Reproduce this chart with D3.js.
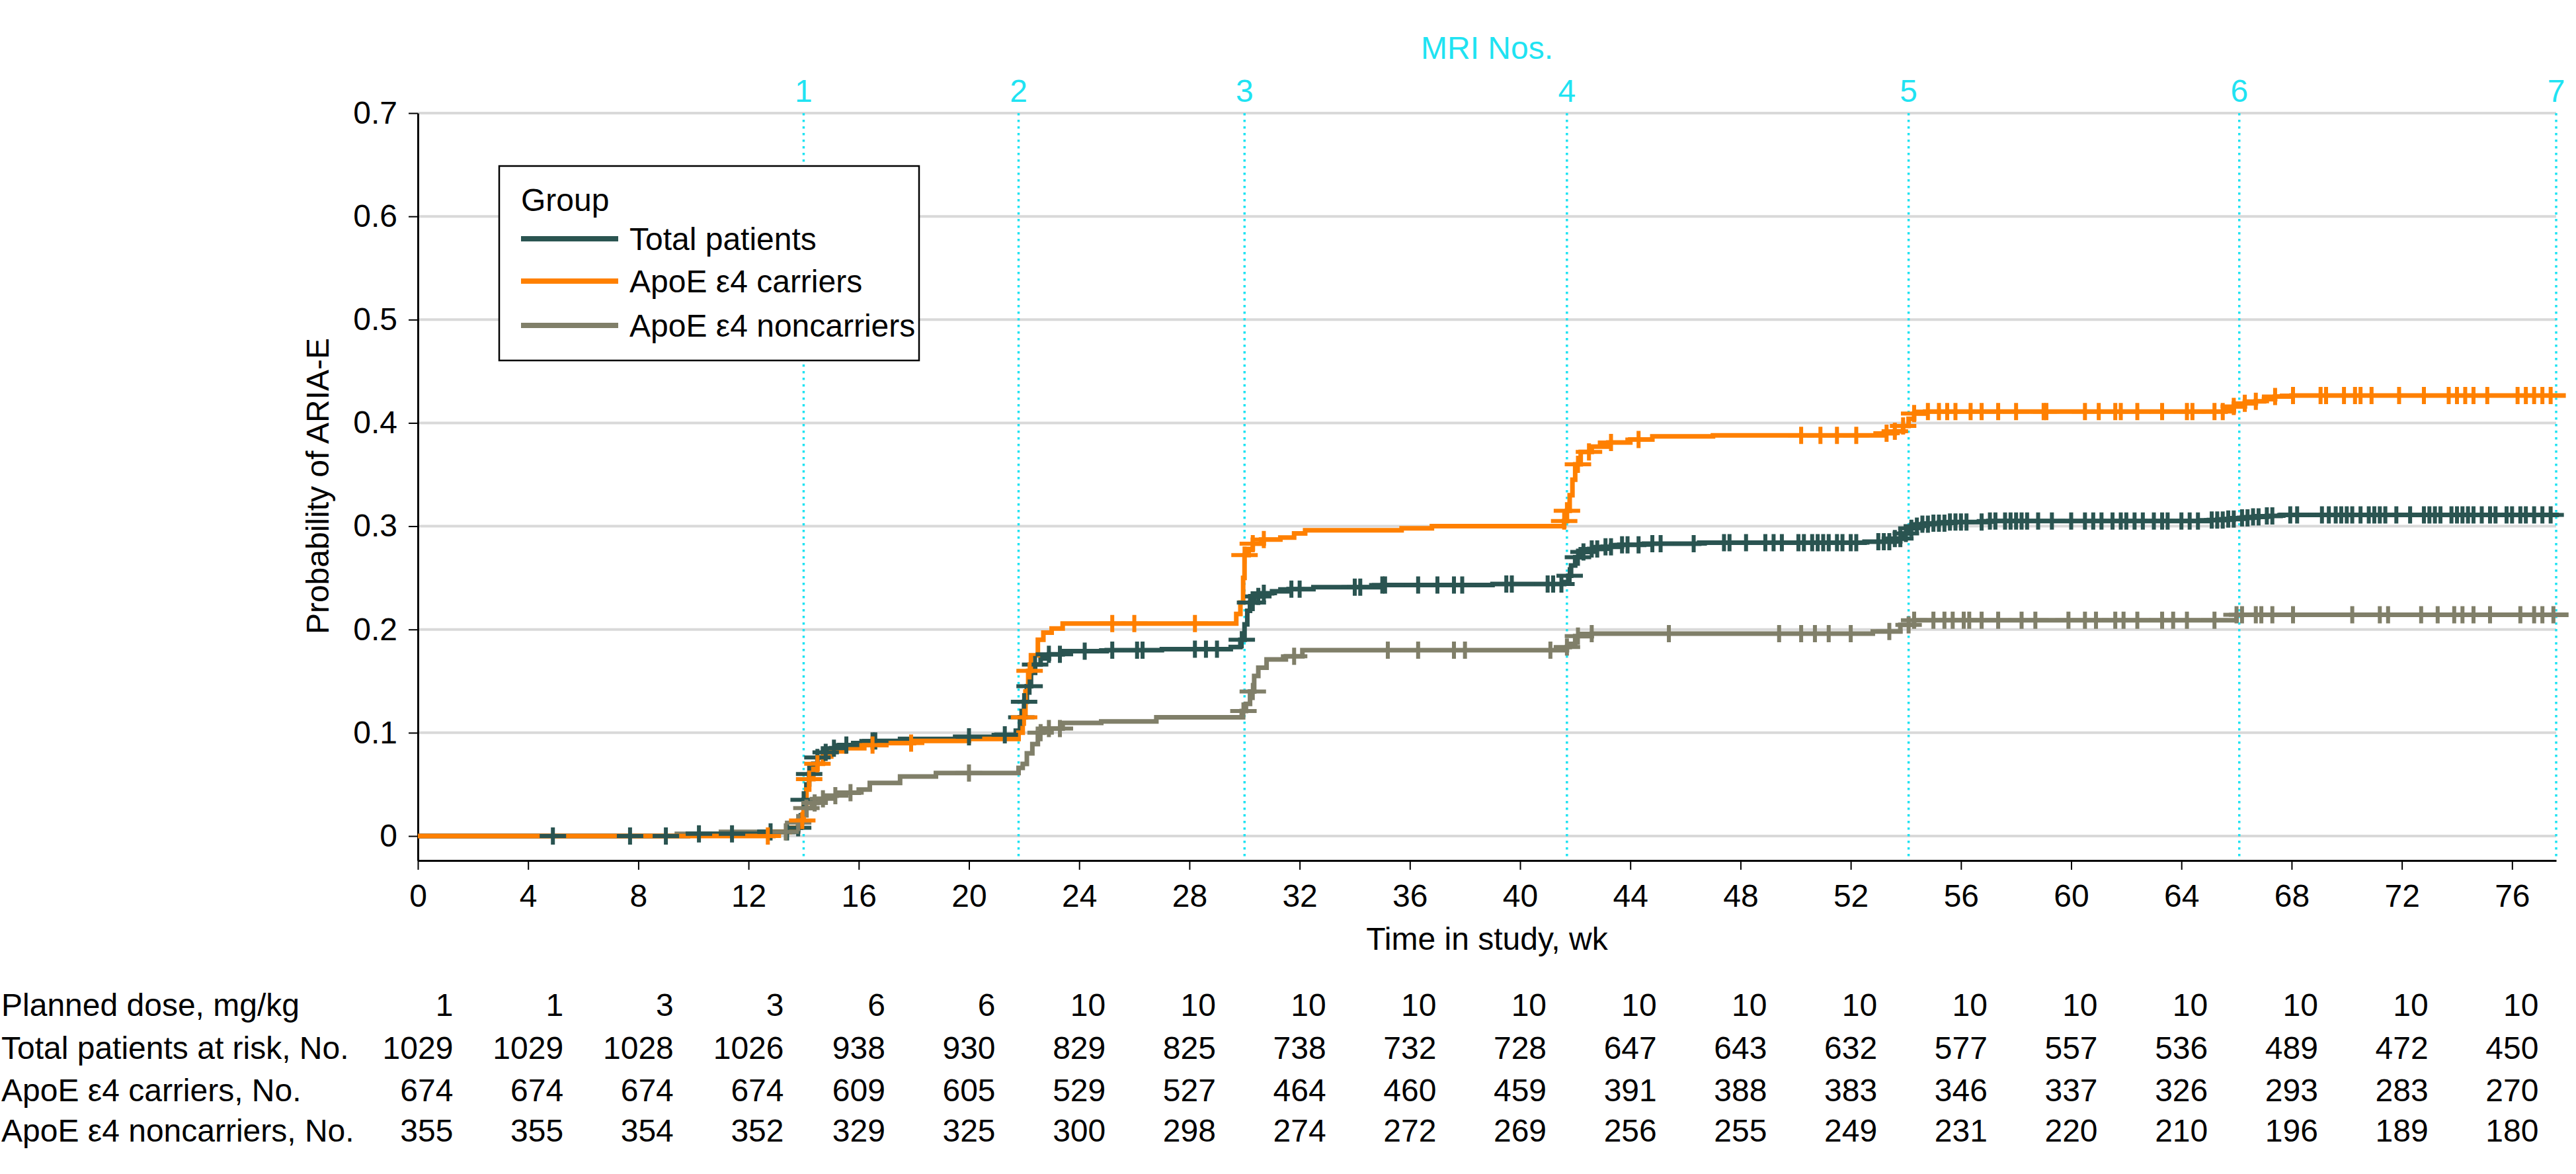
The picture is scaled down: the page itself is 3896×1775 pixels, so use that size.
<!DOCTYPE html>
<html>
<head>
<meta charset="utf-8">
<script src="https://cdn.jsdelivr.net/npm/d3@7"></script>
<style>
body { margin: 0; background: #fff; }
svg { display: block; font-family: "Liberation Sans", Arial, sans-serif; }
</style>
</head>
<body>
<svg width="3896" height="1775"></svg>
<script>
// step times (wk) and cumulative probability of ARIA-E after each step
var totalTimes = [0, 9.8, 12.4, 13.7, 13.9, 14.0, 14.1, 14.2, 14.35, 14.5, 14.7, 15.0, 15.3, 15.8, 16.5, 17.5, 19.5, 21.0, 21.7, 21.85, 22.0, 22.1, 22.25, 22.4, 22.6, 22.9, 23.4, 25.0, 27.0, 29.5, 29.85, 30.0, 30.1, 30.2, 30.35, 30.6, 31.0, 31.6, 32.5, 35.0, 39.0, 41.6, 41.75, 41.85, 42.0, 42.2, 42.5, 43.0, 43.6, 44.5, 46.5, 52.5, 53.6, 53.9, 54.1, 54.3, 54.6, 55.0, 55.6, 57.0, 65.0, 65.6, 66.1, 66.6, 67.1, 67.6, 77.7];
var totalProb = [0, 0.002, 0.004, 0.008, 0.02, 0.035, 0.05, 0.06, 0.07, 0.076, 0.081, 0.085, 0.088, 0.09, 0.092, 0.094, 0.096, 0.098, 0.102, 0.115, 0.13, 0.145, 0.158, 0.166, 0.172, 0.176, 0.179, 0.18, 0.181, 0.183, 0.19, 0.205, 0.218, 0.226, 0.232, 0.235, 0.237, 0.239, 0.241, 0.243, 0.244, 0.246, 0.252, 0.262, 0.27, 0.275, 0.278, 0.28, 0.282, 0.283, 0.284, 0.285, 0.288, 0.293, 0.298, 0.3, 0.302, 0.303, 0.304, 0.305, 0.306, 0.307, 0.308, 0.309, 0.31, 0.311, 0.311];

var carriersTimes = [0, 12.9, 13.5, 13.8, 14.0, 14.1, 14.2, 14.35, 14.5, 14.7, 15.0, 15.5, 16.2, 17.0, 18.0, 20.0, 21.8, 21.95, 22.05, 22.15, 22.25, 22.5, 22.7, 23.0, 23.4, 29.7, 29.85, 29.95, 30.0, 30.15, 30.3, 30.6, 31.3, 31.8, 32.2, 35.7, 36.8, 41.6, 41.7, 41.8, 41.9, 42.0, 42.2, 42.6, 43.2, 44.0, 44.8, 47.0, 53.2, 53.6, 53.9, 54.1, 54.3, 54.7, 65.6, 65.9, 66.3, 66.7, 67.0, 67.4, 68.0, 77.95];
var carriersProb = [0, 0.004, 0.008, 0.015, 0.03, 0.045, 0.055, 0.065, 0.07, 0.077, 0.082, 0.085, 0.088, 0.09, 0.092, 0.094, 0.1, 0.115, 0.14, 0.16, 0.175, 0.19, 0.197, 0.201, 0.2057, 0.215, 0.226, 0.25, 0.272, 0.278, 0.283, 0.287, 0.289, 0.293, 0.296, 0.298, 0.3, 0.305, 0.315, 0.33, 0.345, 0.36, 0.372, 0.377, 0.381, 0.384, 0.387, 0.388, 0.39, 0.392, 0.397, 0.404, 0.409, 0.411, 0.413, 0.416, 0.419, 0.421, 0.423, 0.4255, 0.4265, 0.4265];

var noncarriersTimes = [0, 9.4, 11.0, 13.6, 13.8, 13.95, 14.1, 14.3, 14.5, 14.8, 15.2, 16.0, 16.4, 17.5, 18.8, 21.8, 21.95, 22.1, 22.3, 22.5, 22.7, 23.4, 24.8, 26.8, 29.9, 30.05, 30.2, 30.35, 30.5, 30.8, 31.5, 32.1, 41.7, 41.8, 42.0, 42.6, 52.8, 53.8, 54.3, 66.0, 78.05];
var noncarriersProb = [0, 0.002, 0.004, 0.006, 0.013, 0.02, 0.027, 0.032, 0.036, 0.039, 0.042, 0.045, 0.0514, 0.0576, 0.061, 0.066, 0.0698, 0.08, 0.089, 0.1, 0.104, 0.1095, 0.111, 0.115, 0.121, 0.128, 0.14, 0.155, 0.163, 0.171, 0.174, 0.18, 0.183, 0.186, 0.1935, 0.196, 0.198, 0.2045, 0.209, 0.2143, 0.2143];

// censoring times (wk)
var totalCensor = [4.9, 7.7, 9.0, 10.2, 11.4, 12.8, 13.4, 13.8, 14.0, 14.2, 14.5, 14.8, 15.1, 15.55, 16.5, 16.6, 20.0, 21.3, 21.9, 22.0, 22.2, 22.4, 22.9, 23.3, 24.2, 25.2, 26.1, 26.3, 28.2, 28.6, 29.0, 29.9, 30.2, 30.3, 30.5, 30.7, 31.7, 32.0, 34.0, 34.2, 35.0, 35.1, 36.3, 37.0, 37.6, 37.9, 39.5, 39.7, 41.0, 41.2, 41.5, 41.8, 42.1, 42.3, 42.6, 42.8, 43.1, 43.3, 43.7, 43.9, 44.3, 44.8, 45.1, 46.3, 47.4, 47.6, 48.2, 48.9, 49.2, 49.5, 50.1, 50.3, 50.6, 50.8, 51.0, 51.2, 51.5, 51.7, 52.0, 52.2, 53.0, 53.2, 53.4, 53.6, 53.8, 54.0, 54.2, 54.4, 54.6, 54.8, 55.0, 55.2, 55.4, 55.6, 55.8, 56.0, 56.2, 56.75, 57.05, 57.25, 57.6, 57.8, 58.0, 58.2, 58.4, 58.8, 59.3, 60.0, 60.5, 60.8, 61.1, 61.5, 61.8, 62.0, 62.3, 62.6, 63.0, 63.3, 63.5, 64.0, 64.3, 64.6, 65.1, 65.3, 65.5, 65.7, 65.9, 66.2, 66.4, 66.6, 66.8, 67.1, 67.3, 67.95, 68.2, 69.1, 69.35, 69.6, 69.8, 70.0, 70.2, 70.5, 70.8, 71.0, 71.2, 71.4, 71.8, 72.3, 72.8, 73.0, 73.2, 73.4, 73.8, 74.0, 74.2, 74.4, 74.6, 74.9, 75.2, 75.4, 75.8, 76.0, 76.3, 76.5, 76.8, 77.1, 77.4];
var carriersCensor = [12.7, 13.95, 14.2, 14.5, 16.5, 17.9, 22.0, 22.2, 25.2, 26.0, 28.2, 30.0, 30.3, 30.7, 41.6, 41.7, 42.1, 42.5, 43.3, 44.3, 50.2, 50.9, 51.5, 52.2, 53.3, 53.6, 53.9, 54.3, 54.8, 55.2, 55.5, 55.8, 56.35, 56.75, 57.35, 58.0, 59.0, 59.1, 60.5, 61.0, 61.6, 61.8, 62.4, 63.3, 64.2, 64.4, 65.2, 65.5, 65.9, 66.3, 66.7, 67.4, 68.05, 69.05, 69.25, 69.9, 70.3, 70.5, 70.9, 71.9, 72.8, 73.7, 74.0, 74.3, 74.6, 75.1, 76.2, 76.5, 76.8, 77.1, 77.4];
var noncarriersCensor = [13.35, 13.8, 14.1, 14.4, 14.7, 15.15, 15.7, 20.0, 22.6, 22.9, 23.3, 29.96, 30.3, 31.8, 35.2, 36.3, 37.6, 38.0, 41.1, 41.7, 42.1, 42.6, 45.4, 49.4, 50.2, 50.7, 51.2, 52.0, 53.4, 54.1, 54.3, 55.0, 55.4, 55.7, 56.1, 56.3, 56.75, 57.35, 58.2, 58.7, 59.9, 60.5, 60.9, 61.6, 61.9, 62.4, 63.3, 63.7, 64.2, 65.2, 66.0, 66.2, 66.7, 66.9, 67.3, 68.05, 70.2, 71.2, 71.5, 72.7, 73.3, 73.9, 74.2, 74.6, 75.2, 76.3, 76.8, 77.1, 77.5];

var groupNames = ["Total patients", "ApoE ε4 carriers", "ApoE ε4 noncarriers"];
var groupColors = ["#2a5451", "#ff8000", "#807f69"];

var mriWeeks = [14, 21.8, 30, 41.7, 54.1, 66.1, 77.6];
var mriLabels = ["1", "2", "3", "4", "5", "6", "7"];

var yTicks = [0, 0.1, 0.2, 0.3, 0.4, 0.5, 0.6, 0.7];
var yTickLabels = ["0", "0.1", "0.2", "0.3", "0.4", "0.5", "0.6", "0.7"];

// number-at-risk table
var riskWeeks = [0, 4, 8, 12, 16, 20, 24, 28, 32, 36, 40, 44, 48, 52, 56, 60, 64, 68, 72, 76];
var doseRow = [1, 1, 3, 3, 6, 6, 10, 10, 10, 10, 10, 10, 10, 10, 10, 10, 10, 10, 10, 10];
var totalRisk = [1029, 1029, 1028, 1026, 938, 930, 829, 825, 738, 732, 728, 647, 643, 632, 577, 557, 536, 489, 472, 450];
var carriersRisk = [674, 674, 674, 674, 609, 605, 529, 527, 464, 460, 459, 391, 388, 383, 346, 337, 326, 293, 283, 270];
var noncarriersRisk = [355, 355, 354, 352, 329, 325, 300, 298, 274, 272, 269, 256, 255, 249, 231, 220, 210, 196, 189, 180];
var riskLabels = ["Planned dose, mg/kg", "Total patients at risk, No.", "ApoE ε4 carriers, No.", "ApoE ε4 noncarriers, No."];

var svg = d3.select("svg"),
    margin = { top: 171, right: 30, bottom: 474, left: 632 },
    width = +svg.attr("width") - margin.left - margin.right,
    height = +svg.attr("height") - margin.top - margin.bottom,
    fontSize = 48;

var x = d3.scaleLinear().domain([0, 77.6]).range([0, width]),
    y = d3.scaleLinear().domain([-0.0237, 0.7]).range([height, 0]);

var g = svg.append("g")
    .attr("transform", "translate(" + margin.left + "," + margin.top + ")");

// horizontal gridlines
g.selectAll(".grid")
    .data(yTicks)
    .enter().append("line")
    .attr("x1", 0).attr("x2", width)
    .attr("y1", function (d) { return y(d); })
    .attr("y2", function (d) { return y(d); })
    .attr("stroke", "#d9d9d9")
    .attr("stroke-width", 4);

// MRI visits, dotted cyan
g.selectAll(".mri")
    .data(mriWeeks)
    .enter().append("line")
    .attr("x1", function (d) { return x(d); })
    .attr("x2", function (d) { return x(d); })
    .attr("y1", 0).attr("y2", height)
    .attr("stroke", "#1fe3f2")
    .attr("stroke-width", 3.5)
    .attr("stroke-dasharray", "3.5,6.5");

g.selectAll(".mriLabel")
    .data(mriWeeks)
    .enter().append("text")
    .attr("x", function (d) { return x(d); })
    .attr("y", 154 - margin.top)
    .attr("text-anchor", "middle")
    .attr("fill", "#1fe3f2")
    .attr("font-size", fontSize)
    .text(function (d, i) { return mriLabels[i]; });

svg.append("text")
    .attr("x", margin.left + width / 2)
    .attr("y", 89)
    .attr("text-anchor", "middle")
    .attr("fill", "#1fe3f2")
    .attr("font-size", fontSize)
    .text("MRI Nos.");

// axes
var yAxis = g.append("g")
    .call(d3.axisLeft(y).tickValues(yTicks).tickSize(14).tickSizeOuter(0).tickPadding(17)
        .tickFormat(function (d, i) { return yTickLabels[i]; }));
var xAxis = g.append("g")
    .attr("transform", "translate(0," + height + ")")
    .call(d3.axisBottom(x).tickValues(riskWeeks).tickSize(14).tickSizeOuter(0).tickPadding(22));

[yAxis, xAxis].forEach(function (a) {
    a.attr("font-family", null);
    a.select(".domain").attr("stroke", "#000").attr("stroke-width", 3);
    a.selectAll(".tick line").attr("stroke", "#000").attr("stroke-width", 2);
    a.selectAll("text").attr("font-size", fontSize).attr("fill", "#000");
});

svg.append("text")
    .attr("x", margin.left + width / 2)
    .attr("y", 1436)
    .attr("text-anchor", "middle")
    .attr("font-size", fontSize)
    .text("Time in study, wk");

svg.append("text")
    .attr("transform", "translate(497,735) rotate(-90)")
    .attr("text-anchor", "middle")
    .attr("font-size", fontSize)
    .text("Probability of ARIA-E");

// cumulative incidence curves
var groups = [
    { times: totalTimes, prob: totalProb, censor: totalCensor, color: groupColors[0] },
    { times: carriersTimes, prob: carriersProb, censor: carriersCensor, color: groupColors[1] },
    { times: noncarriersTimes, prob: noncarriersProb, censor: noncarriersCensor, color: groupColors[2] }
];

var line = d3.line()
    .x(function (d) { return x(d[0]); })
    .y(function (d) { return y(d[1]); })
    .curve(d3.curveStepAfter);

function probAt(grp, t) {
    var i = d3.bisectRight(grp.times, t) - 1;
    return grp.prob[Math.max(i, 0)];
}

[2, 0, 1].forEach(function (k) {
    var grp = groups[k];
    g.append("path")
        .datum(grp.times.map(function (t, i) { return [t, grp.prob[i]]; }))
        .attr("fill", "none")
        .attr("stroke", grp.color)
        .attr("stroke-width", 7)
        .attr("d", line);
});

[0, 2, 1].forEach(function (k) {
    var grp = groups[k];
    g.selectAll(".cens" + k)
        .data(grp.censor)
        .enter().append("path")
        .attr("transform", function (d) { return "translate(" + x(d) + "," + y(probAt(grp, d)) + ")"; })
        .attr("d", "M-20,0H20M0,-13V13")
        .attr("fill", "none")
        .attr("stroke", grp.color)
        .attr("stroke-width", 6);
});

// legend
var legend = svg.append("g");
legend.append("rect")
    .attr("x", 755).attr("y", 251)
    .attr("width", 635).attr("height", 294)
    .attr("fill", "#fff")
    .attr("stroke", "#000")
    .attr("stroke-width", 2.5);
legend.append("text")
    .attr("x", 788).attr("y", 319)
    .attr("font-size", fontSize)
    .text("Group");
var legendY = [361, 425, 492];
groupNames.forEach(function (name, i) {
    legend.append("line")
        .attr("x1", 788).attr("x2", 935)
        .attr("y1", legendY[i]).attr("y2", legendY[i])
        .attr("stroke", groupColors[i])
        .attr("stroke-width", 8);
    legend.append("text")
        .attr("x", 952).attr("y", legendY[i])
        .attr("dy", "0.35em")
        .attr("font-size", fontSize)
        .text(name);
});

// number-at-risk rows, right aligned in columns centred on the ticks
var riskRows = [doseRow, totalRisk, carriersRisk, noncarriersRisk];
var rowY = [1536, 1601, 1665, 1726];
var table = svg.append("g").attr("font-size", fontSize);
riskLabels.forEach(function (label, r) {
    table.append("text").attr("x", 2).attr("y", rowY[r]).text(label);
    riskRows[r].forEach(function (v, i) {
        table.append("text")
            .attr("class", "col" + i)
            .attr("y", rowY[r])
            .attr("text-anchor", "end")
            .text(v);
    });
});
riskWeeks.forEach(function (w, i) {
    var col = table.selectAll(".col" + i);
    var maxW = d3.max(col.nodes(), function (n) { return n.getComputedTextLength(); });
    col.attr("x", margin.left + x(w) + maxW / 2);
});
</script>
</body>
</html>
